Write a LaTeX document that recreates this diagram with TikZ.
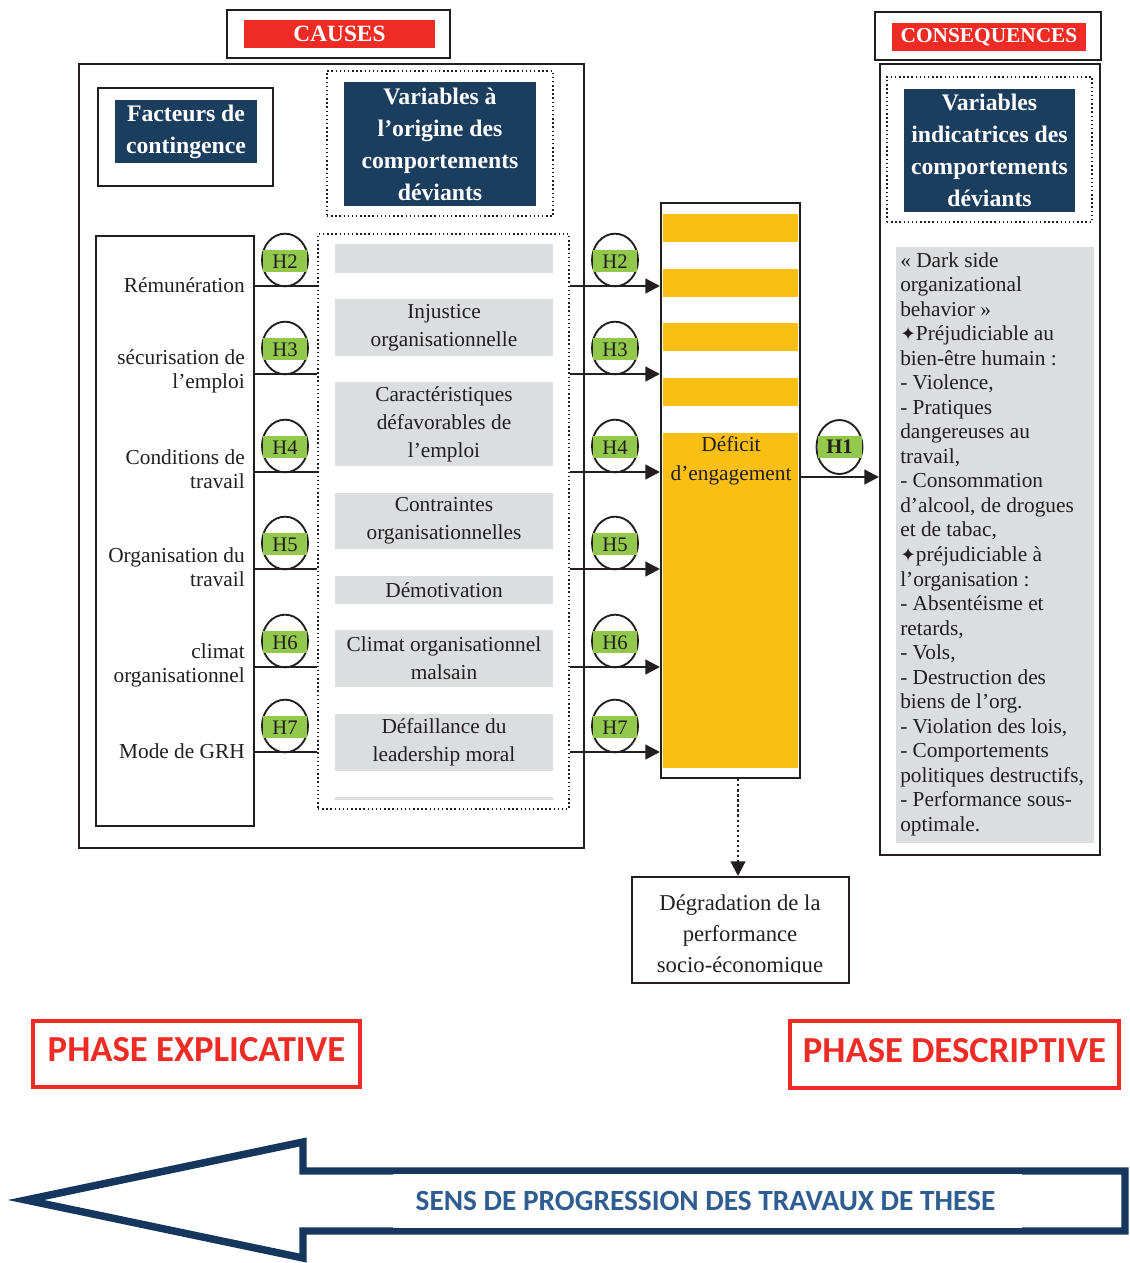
\documentclass[tikz,border=0pt]{standalone}
\usepackage{fontspec}
\setmainfont{Liberation Serif}
\newfontfamily\calib{Carlito}
\newfontfamily\djv{DejaVu Sans}
\usetikzlibrary{arrows.meta,fit,shapes.geometric}
\definecolor{redc}{HTML}{EE2B24}
\definecolor{navyc}{HTML}{1B3D5E}
\definecolor{arrc}{HTML}{17365D}
\definecolor{sensc}{HTML}{2F5D91}
\definecolor{greenc}{HTML}{92C84C}
\definecolor{grayc}{HTML}{DCDDDE}
\definecolor{yellowc}{HTML}{FBBF14}
\definecolor{txtc}{HTML}{231F20}
\definecolor{linec}{HTML}{231F20}
\begin{document}
\begin{tikzpicture}[x=0.75pt,y=-0.75pt,
 every node/.style={inner sep=0pt, text=txtc},
 frame/.style={draw=linec, line width=1.5pt},
 dotframe/.style={draw=linec, line width=1.1pt, dotted},
 navybox/.style={fill=navyc},
 navytxt/.style={text=white, align=center, font=\bfseries\fontsize{17.8}{24}\selectfont},
 redtitle/.style={fill=redc},
 redtxt/.style={text=white, font=\bfseries\fontsize{17.5}{20}\selectfont},
 graybox/.style={fill=grayc},
 graytxt/.style={align=center, font=\fontsize{16}{21}\selectfont},
 lab/.style={anchor=east, align=right, font=\fontsize{16}{18}\selectfont},
 hring/.style={ellipse, draw=linec, line width=1.4pt, minimum width=34.5pt, minimum height=39.5pt},
 hlab/.style={fill=greenc, minimum width=33pt, minimum height=16.5pt, font=\fontsize{15.5}{15.5}\selectfont},
 link/.style={draw=linec, line width=1.8pt},
 arr/.style={link, -{Triangle[length=11pt,width=11pt]}},
 phase/.style={draw=redc, line width=3.6pt},
 phasetxt/.style={text=redc, font=\calib\bfseries\fontsize{27.5}{30}\selectfont},
 star/.style={}
]
\fill[white] (0,0) rectangle (1130,1263);
\path[use as bounding box] (0,0) rectangle (1130,1263);

% ---- CAUSES
\node[frame, fit={(227,10)(450,58)}] (causesbox) {};
\node[redtitle, fit={(244,20)(435,48)}] (causes) {};
\node[redtxt] (causestxt) at (causes.center) {CAUSES};

% ---- left big frame
\node[frame, fit={(79,64)(584,848)}] (leftframe) {};
\node[frame, fit={(98,88)(273,186)}] (factframe) {};
\node[navybox, fit={(115,100)(257,163)}] (facteurs) {};
\node[navytxt] (facteurstxt) at (facteurs.center) {Facteurs de\\contingence};
\node[dotframe, fit={(327,71)(553,216)}] (varframe) {};
\node[navybox, fit={(344,82)(536,206)}] (varorig) {};
\node[navytxt] (varorigtxt) at (varorig.center) {Variables à\\l’origine des\\comportements\\déviants};

% ---- factors
\node[frame, fit={(96,236)(254,826)}] (factors) {};
\node[lab] (f2) at (245,285) {Rémunération};
\node[lab] (f3) at (245,371) {sécurisation de\\l’emploi};
\node[lab] (f4) at (245,469) {Conditions de\\travail};
\node[lab] (f5) at (245,567) {Organisation du\\travail};
\node[lab] (f6) at (245,665) {climat\\organisationnel};
\node[lab] (f7) at (245,751) {Mode de GRH};

% ---- middle variables
\node[dotframe, fit={(318,234)(569,809)}] (mid) {};
\node[graybox, fit={(335,244)(553,273)}] (g0) {};
\node[graybox, fit={(335,299)(553,356)}] (g1) {};
\node[graytxt] at (g1.center) {Injustice\\organisationnelle};
\node[graybox, fit={(335,382)(553,466)}] (g2) {};
\node[graytxt] at (g2.center) {Caractéristiques\\défavorables de\\l’emploi};
\node[graybox, fit={(335,493)(553,549)}] (g3) {};
\node[graytxt] at (g3.center) {Contraintes\\organisationnelles};
\node[graybox, fit={(335,576)(553,604)}] (g4) {};
\node[graytxt] at (g4.center) {Démotivation};
\node[graybox, fit={(335,630)(553,687)}] (g5) {};
\node[graytxt] at (g5.center) {Climat organisationnel\\malsain};
\node[graybox, fit={(335,714)(553,771)}] (g6) {};
\node[graytxt] at (g6.center) {Défaillance du\\leadership moral};
\node[fill=grayc, fit={(335,797)(553,800)}] (g7) {};

% ---- engagement column
\fill[yellowc] (663,214) rectangle (798,242);
\fill[yellowc] (663,269) rectangle (798,297);
\fill[yellowc] (663,323) rectangle (798,351);
\fill[yellowc] (663,378) rectangle (798,406);
\node[fill=yellowc, fit={(663,433)(798,768)}] (deficitbg) {};
\node[align=center, font=\fontsize{16}{22}\selectfont] (deficit) at (731,461) {Déficit\\d’engagement};
\node[frame, fit={(661,203)(800,778)}] (col) {};

% ---- hypotheses H2..H7
\foreach \y/\h in {286/2,374/3,472/4,569/5,667/6,752/7}{
  \coordinate (ly\h) at (0,\y);
  \draw[link] (factors.east |- ly\h) -- (mid.west |- ly\h);
  \node[hring] (cl\h) at (285,\y-26) {};
  \node[hlab] (hl\h) at ([yshift=-1pt]cl\h.center) {H\h};
  \draw[arr] (mid.east |- ly\h) -- (col.west |- ly\h);
  \node[hring] (cr\h) at (615,\y-26) {};
  \node[hlab] (hr\h) at ([yshift=-1pt]cr\h.center) {H\h};
}

% ---- CONSEQUENCES
\node[frame, fit={(875,12)(1101,60)}] (consbox) {};
\node[redtitle, fit={(892,23)(1086,51)}] (cons) {};
\node[redtxt, font=\bfseries\fontsize{16}{18}\selectfont] (constxt) at (cons.center) {CONSEQUENCES};
\node[frame, fit={(880,64)(1100,855)}] (rightframe) {};
\node[dotframe, fit={(887,77)(1092,222)}] (indframe) {};
\node[navybox, fit={(904,89)(1075,212)}] (indic) {};
\node[navytxt] (indictxt) at (indic.center) {Variables\\indicatrices des\\comportements\\déviants};
\node[fill=grayc, fit={(896,247)(1094,843)}] (list) {};
\node[anchor=north west, align=left, font=\fontsize{16}{18.4}\selectfont] (listtxt) at (900,252) {%
« Dark side\\
organizational\\
behavior »\\
{\djv\fontsize{14}{14}\selectfont ✦}Préjudiciable au\\
bien-être humain :\\
- Violence,\\
- Pratiques\\
dangereuses au\\
travail,\\
- Consommation\\
d’alcool, de drogues\\
et de tabac,\\
{\djv\fontsize{14}{14}\selectfont ✦}préjudiciable à\\
l’organisation :\\
- Absentéisme et\\
retards,\\
- Vols,\\
- Destruction des\\
biens de l’org.\\
- Violation des lois,\\
- Comportements\\
politiques destructifs,\\
- Performance sous-\\
optimale.};

% ---- H1
\coordinate (h1y) at (0,477);
\draw[arr] (col.east |- h1y) -- (rightframe.west |- h1y);
\node[hring, minimum height=40.5pt] (c1) at (839.5,447) {};
\node[hlab, font=\bfseries\fontsize{15.5}{15.5}\selectfont] (h1) at (c1) {H1};

% ---- degradation
\begin{scope}
\clip (632,878) rectangle (848,972);
\node[align=center, font=\fontsize{17}{23.5}\selectfont] (degrtxt) at (740,936) {Dégradation de la\\performance\\socio-économique};
\end{scope}
\node[frame, fit={(632,877)(849,983)}] (degr) {};
\coordinate (dx) at (738,0);
\draw[link, dotted, line width=1.6pt, -{Triangle[length=11pt,width=11pt]}] (col.south -| dx) -- (degr.north -| dx);

% ---- phases
\node[phase, fit={(33,1021)(360,1087)}] (pe) {};
\node[phasetxt] (petxt) at ([yshift=3pt]pe.center) {PHASE EXPLICATIVE};
\node[phase, fit={(790,1021)(1119,1088)}] (pd) {};
\node[phasetxt] (pdtxt) at ([yshift=3pt]pd.center) {PHASE DESCRIPTIVE};

% ---- big arrow
\draw[arrc, line width=5.6pt, line join=miter] (26,1200) -- (303,1142) -- (303,1171) -- (1125,1171) -- (1125,1231) -- (303,1231) -- (303,1258) -- cycle;
\node[fill=white, fit={(393,1174)(1022,1228)}] (sens) {};
\node[text=sensc, font=\calib\bfseries\fontsize{22}{24}\selectfont] (senstxt) at ([xshift=-1.5pt]sens.center) {SENS DE PROGRESSION DES TRAVAUX DE THESE};
\end{tikzpicture}
\end{document}
